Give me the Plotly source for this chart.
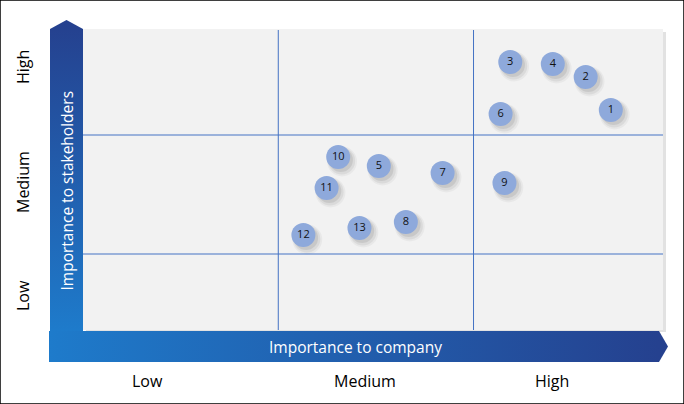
import plotly.graph_objects as go

# materiality matrix: issue number, importance to company (x), importance to stakeholders (y)
issues = ["1", "2", "3", "4", "5", "6", "7", "8", "9", "10", "11", "12", "13"]
company = [2.73, 2.60, 2.21, 2.43, 1.53, 2.16, 1.86, 1.67, 2.18, 1.32, 1.26, 1.14, 1.43]
stakeholders = [2.20, 2.53, 2.68, 2.66, 1.64, 2.16, 1.57, 1.08, 1.47, 1.73, 1.42, 0.95, 1.02]

levels = ["Low", "Medium", "High"]
x_bounds = [1.01, 2.02]
y_bounds = [0.76, 1.95]

W, H = 684, 404
BLUE = "#1E7BCB"
NAVY = "#25408E"

fig = go.Figure()

# decoration layer (pixel-ish coords on x/y, y pointing up)
def py(v):
    return H - v

vx = [50, 50, 66.5, 83, 83, 50]
vy = [py(331), py(29), py(20), py(29), py(331), py(331)]
fig.add_trace(go.Scatter(
    x=vx, y=vy, mode="lines", fill="toself", line=dict(width=0),
    fillgradient=dict(type="vertical", colorscale=[[0, BLUE], [1, NAVY]]),
    hoverinfo="skip", showlegend=False, xaxis="x", yaxis="y"))

hx = [49, 659, 668, 659, 49, 49]
hy = [py(331), py(331), py(346.5), py(362), py(362), py(331)]
fig.add_trace(go.Scatter(
    x=hx, y=hy, mode="lines", fill="toself", line=dict(width=0),
    fillgradient=dict(type="horizontal", colorscale=[[0, BLUE], [1, NAVY]]),
    hoverinfo="skip", showlegend=False, xaxis="x", yaxis="y"))

# soft bubble shadows
for dx, dy, size, alpha in [(0.02, -0.045, 30, 0.04), (0.018, -0.04, 27, 0.06), (0.014, -0.03, 24, 0.08)]:
    fig.add_trace(go.Scatter(
        x=[v + dx for v in company], y=[v + dy for v in stakeholders],
        mode="markers", marker=dict(size=size, color="rgba(0,0,0,%s)" % alpha, line=dict(width=0)),
        hoverinfo="skip", showlegend=False, xaxis="x2", yaxis="y2"))

fig.add_trace(go.Scatter(
    x=company, y=stakeholders, text=issues, mode="markers+text",
    marker=dict(size=24, color="#8EA9DB", line=dict(width=0)),
    textfont=dict(family="Open Sans", size=11, color="#111111"),
    textposition="middle center", hoverinfo="skip", showlegend=False, xaxis="x2", yaxis="y2"))

shapes = [
    # plot area shadow + background
    dict(type="rect", xref="x", yref="y", x0=86, x1=666, y0=py(332), y1=py(32),
         fillcolor="#E2E2E2", line_width=0, layer="below"),
    dict(type="rect", xref="x", yref="y", x0=83, x1=663, y0=py(330), y1=py(29),
         fillcolor="#F2F2F2", line_width=0, layer="below"),
    dict(type="rect", xref="paper", yref="paper", x0=0, x1=1, y0=0, y1=1,
         line=dict(color="black", width=1.5), fillcolor="rgba(0,0,0,0)"),
]
for b in x_bounds:
    shapes.append(dict(type="line", xref="x2", yref="y2 domain", x0=b, x1=b, y0=0, y1=1,
                       line=dict(color="#4472C4", width=1)))
for b in y_bounds:
    shapes.append(dict(type="line", xref="x2 domain", yref="y2", x0=0, x1=1, y0=b, y1=b,
                       line=dict(color="#4472C4", width=1)))

font = "Open Sans"
annotations = [
    dict(x=355, y=py(347), xref="x", yref="y", text="Importance to company", showarrow=False,
         font=dict(family=font, size=15.5, color="white")),
    dict(x=66.5, y=py(191), xref="x", yref="y", text="Importance to stakeholders", showarrow=False,
         textangle=-90, font=dict(family=font, size=15.5, color="white")),
]
for lab, xp in zip(levels, [147, 365, 552]):
    annotations.append(dict(x=xp, y=py(381), xref="x", yref="y", text=lab, showarrow=False,
                            font=dict(family=font, size=16, color="black")))
for lab, yp in zip(levels, [296, 182, 67]):
    annotations.append(dict(x=23, y=py(yp), xref="x", yref="y", text=lab, showarrow=False,
                            textangle=-90, font=dict(family=font, size=16, color="black")))

fig.update_layout(
    width=W, height=H,
    margin=dict(l=0, r=0, t=0, b=0),
    paper_bgcolor="white", plot_bgcolor="rgba(0,0,0,0)",
    xaxis=dict(range=[0, W], domain=[0, 1], visible=False, fixedrange=True),
    yaxis=dict(range=[0, H], domain=[0, 1], visible=False, fixedrange=True),
    xaxis2=dict(range=[0, 3], domain=[83 / W, 663 / W], visible=False, anchor="y2", fixedrange=True),
    yaxis2=dict(range=[0, 3], domain=[(H - 330) / H, (H - 30) / H], visible=False, anchor="x2", fixedrange=True),
    shapes=shapes,
    annotations=annotations,
)

fig.write_html("out.html", config={"displayModeBar": False},
               post_script="document.body.style.margin='0';")
